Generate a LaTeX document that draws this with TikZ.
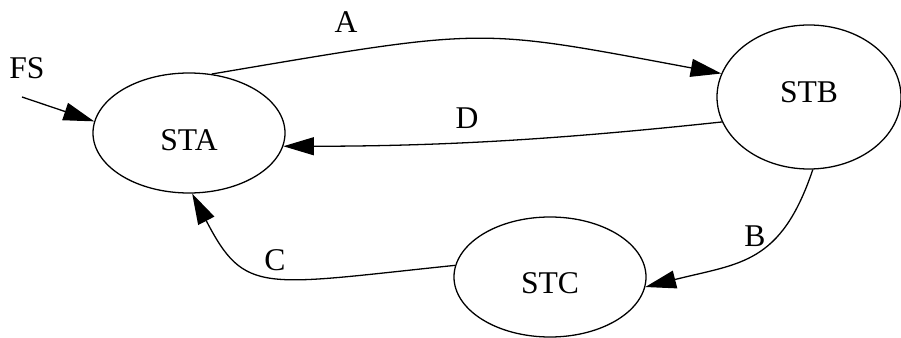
\documentclass[tikz,border=0pt]{standalone}
\usepackage{fontspec}
\setmainfont{Liberation Serif}
\usetikzlibrary{arrows.meta,shapes.geometric}
\tikzset{
  estado/.style={ellipse, draw, line width=1.1pt, minimum width=5.76cm,
    minimum height=3.6cm, inner sep=0pt, font=\fontsize{27}{32}\selectfont},
  flecha/.style={-{Triangle[length=0.92cm,width=0.54cm]}, line width=1.1pt},
  etq/.style={font=\fontsize{27}{32}\selectfont, inner sep=0pt},
}
\begin{document}
\begin{tikzpicture}[x=0.03cm,y=0.03cm]
  \useasboundingbox (0,0) rectangle (901,337);
  % estados
  \node[estado, text height=1.04cm, text depth=0pt] (sta) at (189,204) {STA};
  \node[estado, minimum width=5.52cm, minimum height=4.32cm,
    text height=0.62cm, text depth=0.3cm] (stb) at (809,240) {STB};
  \node[estado, text height=0.98cm, text depth=0pt] (stc) at (550,60) {STC};
  % entrada
  \coordinate (ini) at (22,240);
  \node[etq] (fs) at (27,269) {FS};
  \draw[flecha] (ini) -- (sta.173);
  % transiciones
  \draw[flecha] (sta.69) .. controls +(278,47) and +(-247,46) .. (stb.165);
  \node[etq] (ta) at (346,315) {A};
  \draw[flecha] (stb.196) .. controls +(-150,-16) and +(170,0) .. (sta.352);
  \node[etq] (td) at (467,219) {D};
  \draw[flecha] (stb.273) .. controls +(-32,-95) and +(95,24) .. (stc.354);
  \node[etq] (tb) at (755,101) {B};
  \draw[flecha] (stc.173) .. controls +(-194,-20) and +(53,-102) .. (sta.273);
  \node[etq] (tc) at (275,77) {C};
\end{tikzpicture}
\end{document}
